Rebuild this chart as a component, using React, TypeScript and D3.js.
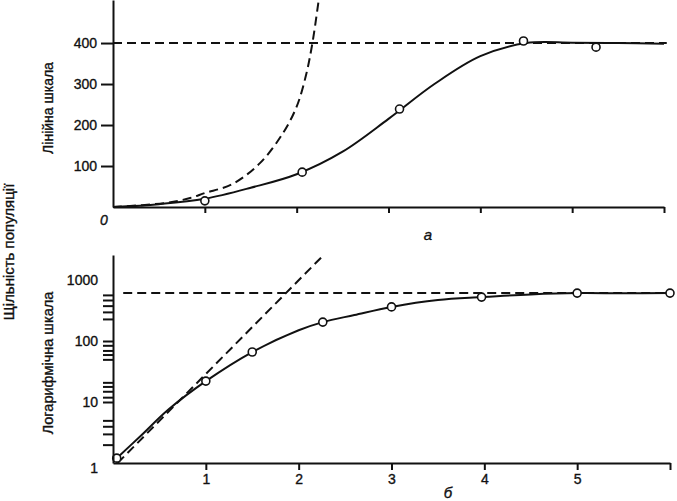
import * as d3 from 'd3';
import { useEffect, useRef } from 'react';

const WIDTH = 677;
const HEIGHT = 501;
const FONT = '"Liberation Sans", Arial, sans-serif';
const INK = '#111';

// shared time axis
const xTicks = [1, 2, 3, 4, 5, 6];
const xTickLabelsB = ['1', '2', '3', '4', '5', ''];

// panel а: linear scale
const linTicks = [100, 200, 300, 400];
const carryingA = 400;
const logisticAx = [0, 0.5, 1, 1.5, 2, 2.5, 3, 3.5, 4, 4.5, 5, 5.5, 6];
const logisticAy = [0, 7, 20, 47, 80, 135, 215, 300, 368, 400, 401, 400, 398];
const expAx = [0, 0.58, 0.84, 1, 1.3, 1.6, 1.85, 2.0, 2.1, 2.17, 2.24];
const expAy = [0, 10, 22, 34, 56, 107, 180, 245, 320, 398, 505];
const obsAx = [1, 2.06, 3.12, 4.47, 5.26];
const obsAy = [15, 85, 239, 405, 390];

// panel б: log scale
const logLabels = [1, 10, 100, 1000];
const logMajorTicks = [10, 100];
const logMinorTicks = [2, 3, 4, 5, 12, 15, 18, 21, 50, 60, 70, 85, 230, 300, 380, 470, 570];
const carryingB = 610;
const logisticBx = [0.04, 0.3, 0.6, 1, 1.5, 2, 2.26, 2.6, 3, 3.5, 3.97, 4.5, 5, 5.5, 6];
const logisticBy = [1.2, 2.8, 7.6, 22, 66, 150, 204, 267, 362, 470, 525, 580, 610, 606, 610];
const expBx = [0.05, 2.25];
const expBy = [1, 2400];
const obsBx = [0.04, 1, 1.5, 2.26, 3.0, 3.97, 5.0, 6.0];
const obsBy = [1.2, 22, 66, 204, 362, 525, 610, 610];

const zip = (xs: number[], ys: number[]) => xs.map((x, i) => [x, ys[i]] as [number, number]);

const styleAxis = (g: d3.Selection<SVGGElement, unknown, null, undefined>) => {
  g.select('.domain').attr('stroke', INK).attr('stroke-width', 2);
  g.selectAll('.tick line').attr('stroke', INK).attr('stroke-width', 2);
  g.selectAll('.tick text')
    .attr('fill', INK)
    .attr('stroke', INK)
    .attr('stroke-width', 0.35)
    .style('font-family', FONT)
    .style('font-size', '14px');
};

export default function App() {
  const axesRef = useRef<SVGGElement | null>(null);

  const xA = d3.scaleLinear().domain([0, 6]).range([113, 664]);
  const yA = d3.scaleLinear().domain([0, 505]).range([207, 0]);
  const xB = d3.scaleLinear().domain([0, 6]).range([113, 670]);
  const yB = d3.scaleLog().domain([1, 2570]).range([463, 255]);

  useEffect(() => {
    const root = d3.select(axesRef.current);
    root.selectAll('*').remove();

    // panel а axes
    const gxA = root.append('g').attr('transform', `translate(0,${yA(0)})`);
    gxA.call(d3.axisBottom(xA).tickValues(xTicks).tickSize(6).tickSizeOuter(0).tickFormat(() => ''));
    styleAxis(gxA);

    const gyA = root.append('g').attr('transform', `translate(${xA(0)},0)`);
    gyA.call(d3.axisLeft(yA).tickValues(linTicks).tickSize(12).tickSizeOuter(0).tickPadding(4));
    styleAxis(gyA);

    // panel б axes
    const gxB = root.append('g').attr('transform', `translate(0,${yB(1)})`);
    gxB.call(
      d3
        .axisBottom(xB)
        .tickValues(xTicks)
        .tickSize(7)
        .tickSizeOuter(0)
        .tickPadding(4)
        .tickFormat((_, i) => xTickLabelsB[i])
    );
    styleAxis(gxB);

    const gyB = root.append('g').attr('transform', `translate(${xB(0)},0)`);
    gyB.call(
      d3
        .axisLeft(yB)
        .tickValues([...logMajorTicks, ...logMinorTicks])
        .tickSize(10)
        .tickSizeOuter(0)
        .tickFormat(() => '')
    );
    styleAxis(gyB);
  }, []);

  const lineA = d3
    .line<[number, number]>()
    .x((d) => xA(d[0]))
    .y((d) => yA(d[1]))
    .curve(d3.curveCatmullRom.alpha(0.5));
  const lineB = d3
    .line<[number, number]>()
    .x((d) => xB(d[0]))
    .y((d) => yB(d[1]))
    .curve(d3.curveCatmullRom.alpha(0.5));

  const dash = '9 5';
  const textInk = { fill: INK, stroke: INK, strokeWidth: 0.35 };

  return (
    <svg
      width={WIDTH}
      height={HEIGHT}
      style={{ position: 'absolute', left: 0, top: 0, background: '#fff' }}
      fontFamily={FONT}
    >
      {/* panel а */}
      <line
        x1={xA(0)}
        x2={xA(6.03)}
        y1={yA(carryingA)}
        y2={yA(carryingA)}
        stroke={INK}
        strokeWidth={2}
        strokeDasharray={dash}
      />
      <path d={lineA(zip(expAx, expAy)) ?? ''} fill="none" stroke={INK} strokeWidth={2} strokeDasharray={dash} />
      <path d={lineA(zip(logisticAx, logisticAy)) ?? ''} fill="none" stroke={INK} strokeWidth={2} />
      {obsAx.map((x, i) => (
        <circle key={`a${i}`} cx={xA(x)} cy={yA(obsAy[i])} r={4} fill="#fff" stroke={INK} strokeWidth={1.6} />
      ))}

      {/* panel б */}
      <line
        x1={xB(0.11)}
        x2={xB(6)}
        y1={yB(carryingB)}
        y2={yB(carryingB)}
        stroke={INK}
        strokeWidth={2}
        strokeDasharray={dash}
      />
      <path d={lineB(zip(expBx, expBy)) ?? ''} fill="none" stroke={INK} strokeWidth={2} strokeDasharray={dash} />
      <path d={lineB(zip(logisticBx, logisticBy)) ?? ''} fill="none" stroke={INK} strokeWidth={2} />
      {obsBx.map((x, i) => (
        <circle key={`b${i}`} cx={xB(x)} cy={yB(obsBy[i])} r={4} fill="#fff" stroke={INK} strokeWidth={1.6} />
      ))}

      <g ref={axesRef} />

      {/* log-axis labels */}
      {logLabels.map((v) => (
        <text
          key={v}
          x={xB(0) - 15}
          y={yB(v) + (v === 1 ? 5 : 0)}
          dy="0.35em"
          textAnchor="end"
          fontSize={14}
          {...textInk}
        >
          {v}
        </text>
      ))}
      <text x={104} y={225} textAnchor="middle" fontSize={14} fontStyle="italic" {...textInk}>
        0
      </text>

      {/* axis titles */}
      <text transform="translate(53,108) rotate(-90)" textAnchor="middle" fontSize={14} {...textInk}>
        Лінійна шкала
      </text>
      <text transform="translate(53,363) rotate(-90)" textAnchor="middle" fontSize={14.5} {...textInk}>
        Логарифмічна шкала
      </text>
      <text transform="translate(14,252) rotate(-90)" textAnchor="middle" fontSize={15} {...textInk}>
        Щільність популяції
      </text>

      {/* panel letters */}
      <text x={428} y={240} textAnchor="middle" fontSize={15} fontStyle="italic" {...textInk}>
        а
      </text>
      <text x={448} y={498} textAnchor="middle" fontSize={15} fontStyle="italic" {...textInk}>
        б
      </text>
    </svg>
  );
}
